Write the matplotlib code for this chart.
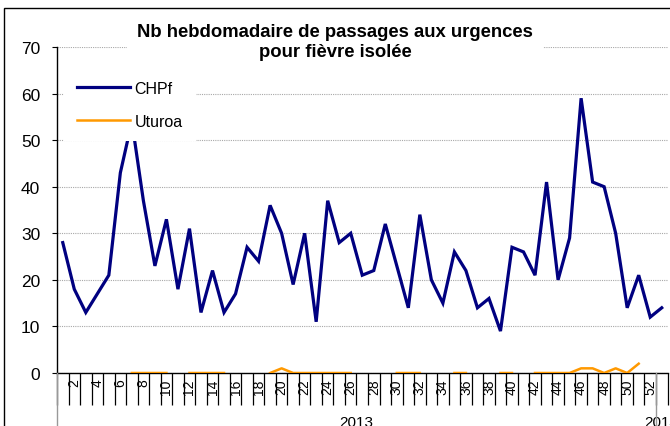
import matplotlib
matplotlib.use("Agg")
import matplotlib.pyplot as plt
import matplotlib.patches as mpatches
import numpy as np

plt.rcParams['font.family'] = ['Liberation Sans', 'DejaVu Sans']

# ---------------- data ----------------
weeks_2013 = list(range(1, 53))
weeks_2014 = [1]
week_labels = [str(w) for w in weeks_2013] + [str(w) for w in weeks_2014]
years = ["2013", "2014"]

chpf = [28, 18, 13, 17, 21, 43, 54, 37, 23, 33,
        18, 31, 13, 22, 13, 17, 27, 24, 36, 30,
        19, 30, 11, 37, 28, 30, 21, 22, 32, 23,
        14, 34, 20, 15, 26, 22, 14, 16, 9, 27,
        26, 21, 41, 20, 29, 59, 41, 40, 30, 14,
        21, 12,
        14]
nan = np.nan
uturoa = [nan, nan, nan, nan, nan, nan, 0, 0, 0, 0,
          nan, 0, 0, 0, 0, nan, nan, nan, 0, 1,
          0, 0, 0, 0, 0, 0, nan, nan, nan, 0,
          0, 0, nan, nan, 0, 0, nan, nan, 0, 0,
          nan, 0, 0, 0, 0, 1, 1, 0, 1, 0,
          2, nan,
          nan]
series_names = ["CHPf", "Uturoa"]
title = "Nb hebdomadaire de passages aux urgences\npour fièvre isolée"

# ---------------- figure ----------------
W, H = 670, 427
fig = plt.figure(figsize=(W / 100, H / 100), dpi=100)
ax = fig.add_axes([57 / W, (H - 374) / H, (667.5 - 57) / W, (374 - 48) / H])

x = np.arange(len(chpf))
ax.plot(x, chpf, color='#000080', lw=2.3, label=series_names[0], zorder=3,
        solid_joinstyle='miter')
ax.plot(x, uturoa, color='#FF9900', lw=1.8, label=series_names[1], zorder=3)

ax.set_xlim(-0.5, len(chpf) - 0.5)
ax.set_ylim(0, 70)
ax.set_yticks(np.arange(0, 71, 10))
ax.tick_params(axis='y', length=3.6, width=0.8, pad=8.5, labelsize=12.5, color='black')
ax.yaxis.get_major_ticks()[0].tick1line.set_color('#999999')

ax.yaxis.grid(True, linestyle=(0, (1, 1)), color='#a8a8a8', lw=0.8)
ax.set_axisbelow(True)

for s in ['top', 'right']:
    ax.spines[s].set_visible(False)
ax.spines['left'].set_linewidth(1.0)
ax.spines['bottom'].set_linewidth(1.0)

# category boundaries (ticks) and labels (minor ticks)
bounds = np.arange(-0.5, len(chpf), 1.0)
ax.set_xticks(bounds)
ax.set_xticklabels([])
ax.tick_params(axis='x', which='major', length=23, width=0.9, color='black', direction='out')
lab_pos = [i for i, w in enumerate(week_labels[:len(weeks_2013)]) if int(w) % 2 == 0]
ax.set_xticks(lab_pos, [week_labels[i] for i in lab_pos], minor=True)
ax.tick_params(axis='x', which='minor', length=0, pad=4, labelsize=10, labelrotation=90)

# group separators (gray long lines) & group labels
trans = ax.get_xaxis_transform()
n13 = len(weeks_2013)
for b in [-0.5, n13 - 0.5]:
    ax.plot([b, b], [0, -0.4], transform=trans, color='#999999', lw=1.0, clip_on=False, zorder=4)
ax.text((n13 - 1) / 2, -0.13, years[0], transform=trans, ha='center', va='top', fontsize=11)
ax.text(n13 + (len(weeks_2014) - 1) / 2, -0.13, years[1], transform=trans, ha='center', va='top', fontsize=11)

# legend
leg = ax.legend(loc='upper left', bbox_to_anchor=(0.012, 0.935), borderaxespad=0,
                frameon=True, fancybox=False, edgecolor='none', facecolor='white', framealpha=1,
                fontsize=11.5, handlelength=3.3, handletextpad=0.3, labelspacing=1.1, borderpad=0.8)
leg.set_zorder(5)

# title
fig.text(0.5, (H - 42.5) / H, title, ha='center', va='center', fontsize=13.3, fontweight='bold',
         linespacing=1.28,
         bbox=dict(boxstyle='square,pad=0.55', facecolor='white', edgecolor='none'))

# chart border
fig.add_artist(mpatches.Rectangle((4 / W, -0.2), 2, (H - 9) / H + 0.2, transform=fig.transFigure,
                                  fill=False, edgecolor='black', lw=1.0))

fig.savefig('out.png', dpi=100)
